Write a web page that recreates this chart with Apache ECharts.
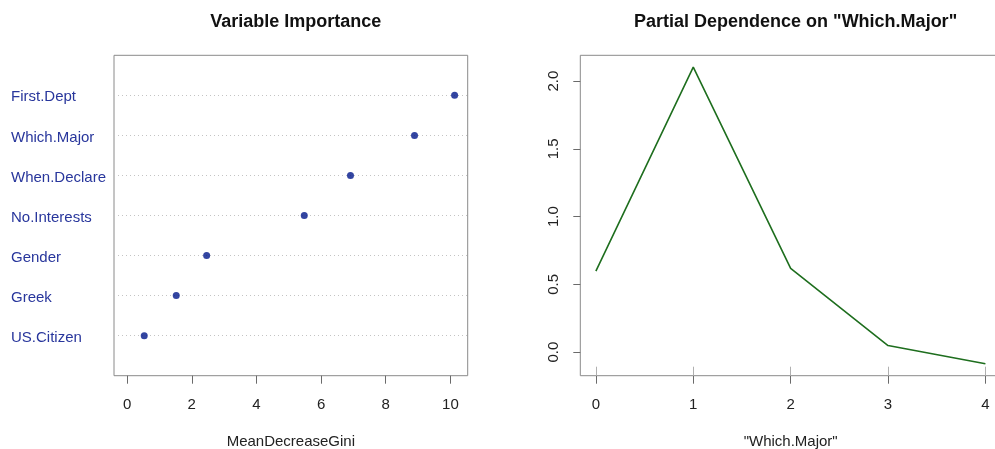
<!DOCTYPE html>
<html>
<head>
<meta charset="utf-8">
<script src="https://cdn.jsdelivr.net/npm/echarts@6/dist/echarts.min.js"></script>
<style>
  html, body { margin: 0; padding: 0; background: #ffffff; }
  #chart { width: 995px; height: 449px; }
</style>
</head>
<body>
<div id="chart"></div>
<script>
// Variable importance (random forest, MeanDecreaseGini), bottom to top
const variables = ['US.Citizen', 'Greek', 'Gender', 'No.Interests', 'When.Declare', 'Which.Major', 'First.Dept'];
const meanDecreaseGini = [0.53, 1.52, 2.46, 5.48, 6.91, 8.89, 10.13];
const giniTicks = [0, 2, 4, 6, 8, 10];

// Partial dependence on "Which.Major"
const majorLevels = [0, 1, 2, 3, 4];
const partialDep = [0.598, 2.103, 0.618, 0.049, -0.086];
const majorTicks = [0, 1, 2, 3, 4];
const depTicks = [0, 0.5, 1, 1.5, 2];
const rugPositions = [0, 1, 2, 3, 4];

const FONT = '"Liberation Sans", Arial, sans-serif';
const BOX = '#8a8a8a';
const TICK = '#6a6a6a';
const TEXT = '#222222';

// R-style 4% padding around the data range
function padRange(lo, hi) {
  const ext = (hi - lo) * 0.04;
  return [lo - ext, hi + ext];
}
const giniRange = padRange(0, Math.max(...meanDecreaseGini));
const majorRange = padRange(Math.min(...majorLevels), Math.max(...majorLevels));
const depRange = padRange(Math.min(...partialDep), Math.max(...partialDep));

const chart = echarts.init(document.getElementById('chart'), null, { renderer: 'canvas' });

chart.setOption({
  animation: false,
  backgroundColor: '#ffffff',
  textStyle: { fontFamily: FONT },
  title: [
    {
      text: 'Variable Importance', left: 290.8, top: 8, textAlign: 'center',
      textStyle: { fontFamily: FONT, fontSize: 18, fontWeight: 'bold', color: '#111' }
    },
    {
      text: 'Partial Dependence on "Which.Major"', left: 790.6, top: 8, textAlign: 'center',
      textStyle: { fontFamily: FONT, fontSize: 18, fontWeight: 'bold', color: '#111' }
    }
  ],
  grid: [
    {
      left: 114, top: 55.3, width: 353.7, height: 320.4, outerBoundsMode: 'none', containLabel: false,
      show: true, borderColor: BOX, borderWidth: 1, backgroundColor: 'transparent'
    },
    {
      left: 580.3, top: 55.3, width: 420.7, height: 320.4, outerBoundsMode: 'none', containLabel: false,
      show: true, borderColor: BOX, borderWidth: 1, backgroundColor: 'transparent'
    }
  ],
  xAxis: [
    {
      gridIndex: 0, type: 'value', min: giniRange[0], max: giniRange[1], position: 'bottom',
      name: 'MeanDecreaseGini', nameLocation: 'middle', nameGap: 59,
      nameTextStyle: { fontFamily: FONT, fontSize: 15, color: TEXT },
      axisLine: { show: false, onZero: false },
      axisTick: { show: true, length: 8, lineStyle: { color: TICK }, customValues: giniTicks },
      axisLabel: { fontFamily: FONT, fontSize: 15, color: TEXT, margin: 22, customValues: giniTicks },
      splitLine: { show: false }
    },
    {
      gridIndex: 1, type: 'value', min: majorRange[0], max: majorRange[1], position: 'bottom',
      name: '"Which.Major"', nameLocation: 'middle', nameGap: 59,
      nameTextStyle: { fontFamily: FONT, fontSize: 15, color: TEXT },
      axisLine: { show: false, onZero: false },
      axisTick: { show: true, length: 8, lineStyle: { color: TICK }, customValues: majorTicks },
      axisLabel: { fontFamily: FONT, fontSize: 15, color: TEXT, margin: 22, customValues: majorTicks },
      splitLine: { show: false }
    },
    {
      // rug marks along the bottom of the partial dependence panel
      gridIndex: 1, type: 'value', min: majorRange[0], max: majorRange[1], position: 'bottom',
      axisLine: { show: false, onZero: false },
      axisTick: { show: true, inside: true, length: 9, lineStyle: { color: '#b0b0b0' }, customValues: rugPositions },
      axisLabel: { show: false },
      splitLine: { show: false }
    }
  ],
  yAxis: [
    {
      gridIndex: 0, type: 'value', min: 0, max: variables.length + 1, interval: 1, position: 'left',
      axisLine: { show: false, onZero: false },
      axisTick: { show: false },
      axisLabel: {
        fontFamily: FONT, fontSize: 15, color: '#28369c', align: 'left', margin: 103,
        verticalAlign: 'top', lineHeight: 4,
        formatter: v => variables[v - 1] || ''
      },
      splitLine: { show: false }
    },
    {
      gridIndex: 1, type: 'value', min: depRange[0], max: depRange[1], position: 'left',
      axisLine: { show: false, onZero: false },
      axisTick: { show: true, length: 7, lineStyle: { color: TICK }, customValues: depTicks },
      axisLabel: {
        fontFamily: FONT, fontSize: 15, color: TEXT, rotate: 90, margin: 19,
        customValues: depTicks, formatter: v => v.toFixed(1)
      },
      splitLine: { show: false }
    }
  ],
  series: [
    {
      type: 'scatter', xAxisIndex: 0, yAxisIndex: 0,
      data: meanDecreaseGini.map((v, i) => [v, i + 1]),
      symbol: 'circle', symbolSize: 7,
      itemStyle: { color: '#00168a' },
      z: 5,
      markLine: {
        silent: true, symbol: 'none', animation: false,
        label: { show: false },
        lineStyle: { type: [1, 3], color: '#c4c4c4', width: 1 },
        data: variables.map((_, i) => ({ yAxis: i + 1 }))
      }
    },
    {
      type: 'line', xAxisIndex: 1, yAxisIndex: 1,
      data: majorLevels.map((x, i) => [x, partialDep[i]]),
      symbol: 'none',
      lineStyle: { color: '#1e6e1e', width: 1.6 }
    }
  ]
});
</script>
</body>
</html>
